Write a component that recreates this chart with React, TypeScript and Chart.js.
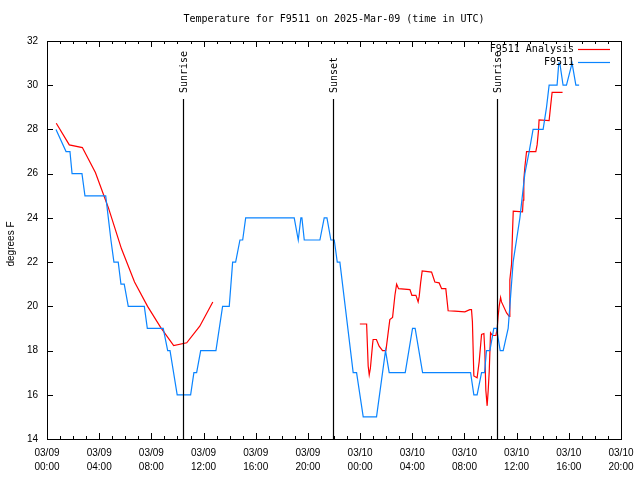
import React, { useEffect, useRef } from "react";
import { Chart, registerables } from "chart.js";

Chart.register(...registerables);

const TITLE = "Temperature for F9511 on 2025-Mar-09 (time in UTC)";
const Y_TITLE = "degrees F";
const X_MIN = 0;
const X_MAX = 44;
const Y_MIN = 14;
const Y_MAX = 32;

const xTickHours = [0, 4, 8, 12, 16, 20, 24, 28, 32, 36, 40, 44];
const xTickDates = ["03/09", "03/09", "03/09", "03/09", "03/09", "03/09", "03/10", "03/10", "03/10", "03/10", "03/10", "03/10"];
const xTickTimes = ["00:00", "04:00", "08:00", "12:00", "16:00", "20:00", "00:00", "04:00", "08:00", "12:00", "16:00", "20:00"];
const yTicks = [14, 16, 18, 20, 22, 24, 26, 28, 30, 32];

const seriesNames = ["F9511 Analysis", "F9511"];
const seriesColors = ["#ff0000", "#0a84ff"];

// F9511 observations (hours since 03/09 00:00 UTC, degrees F)
const obsHours = [
  0.69, 1.46, 1.76, 1.92, 2.68, 2.91, 4.5, 4.7, 4.9, 5.13, 5.46, 5.67, 5.92, 6.23, 7.46, 7.69, 8.91, 9.25, 9.43, 9.98,
  11.01, 11.26, 11.47, 11.78, 12.95, 13.46, 13.97, 14.23, 14.46, 14.79, 15.0, 15.23, 18.95, 19.26, 19.46, 19.54, 19.72,
  20.92, 21.25, 21.46, 21.76, 22.02, 22.25, 22.45, 23.47, 23.73, 24.24, 25.26, 25.95, 26.23, 27.46, 28.02, 28.22, 28.79,
  32.47, 32.72, 32.97, 33.31, 33.54, 33.69, 33.95, 34.25, 34.46, 34.74, 34.97, 35.35, 35.48, 35.73, 35.99, 36.25, 36.63,
  36.96, 37.26, 38.03, 38.29, 38.49, 39.1, 39.23, 39.31, 39.56, 39.82, 40.25, 40.54, 40.79,
];
const obsTemps = [
  28, 27, 27, 26, 26, 25, 25, 24, 23, 22, 22, 21, 21, 20, 20, 19, 19, 18, 18, 16,
  16, 17, 17, 18, 18, 20, 20, 22, 22, 23, 23, 24, 24, 23, 24, 24, 23,
  23, 24, 24, 23, 23, 22, 22, 17, 17, 15, 15, 18, 17, 17, 19, 19, 17,
  17, 16, 16, 17, 17, 18, 18, 19, 19, 18, 18, 19, 20, 22, 23, 24, 26,
  27, 28, 28, 29, 30, 30, 31, 31, 30, 30, 31, 30, 30,
];

// F9511 Analysis (null = gap)
const anaHours = [
  0.71, 1.71, 2.71, 3.71, 4.71, 5.71, 6.71, 7.71, 8.71, 9.71, 10.71, 11.71, 12.71, 18.0,
  23.98, 24.5, 24.62, 24.7, 24.79, 24.96, 25.0, 25.25, 25.46, 25.72, 25.98, 26.15, 26.28, 26.49, 26.67, 26.8, 26.95,
  27.82, 27.97, 28.28, 28.45, 28.53, 28.64, 28.76, 29.48, 29.73, 30.06, 30.25, 30.57, 30.75, 31.26, 32.03, 32.41, 32.54,
  32.61, 32.72, 32.97, 33.13, 33.31, 33.49, 33.56, 33.64, 33.74, 33.82, 33.9, 34.0, 34.15, 34.41, 34.51, 34.58, 34.66,
  34.77, 34.84, 35.23, 35.43, 35.48, 35.61, 35.69, 35.74, 36.45, 36.5, 36.55, 36.63, 36.76, 37.47, 37.57, 37.68, 37.72,
  38.49, 38.6, 38.72, 39.52,
];
const anaTemps = [
  28.28, 27.3, 27.18, 26.05, 24.45, 22.6, 21.1, 20.0, 19.05, 18.22, 18.35, 19.1, 20.2, null,
  19.2, 19.2, 17.3, 16.9, 17.2, 18.3, 18.5, 18.5, 18.2, 18.0, 18.0, 18.8, 19.4, 19.5, 20.5, 21.0, 20.8,
  20.76, 20.5, 20.5, 20.2, 20.45, 21.06, 21.6, 21.55, 21.1, 21.06, 20.8, 20.8, 19.8, 19.78, 19.75, 19.85, 19.85,
  19.3, 16.85, 16.77, 17.5, 18.73, 18.77, 18.0, 16.2, 15.5, 16.2, 17.07, 18.8, 18.68, 18.68, 19.0, 19.55, 20.0,
  20.4, 20.2, 19.7, 19.55, 21.2, 21.9, 23.47, 24.3, 24.27, 24.8, 25.7, 26.3, 27.0, 27.0, 27.3, 27.98, 28.43,
  28.4, 29.03, 29.68, 29.68,
];

const eventHours = [10.42, 21.92, 34.48];
const eventLabels = ["Sunrise", "Sunset", "Sunrise"];

const MONO = "10px 'DejaVu Sans Mono', monospace";
const TICKF = "10px 'Liberation Sans', sans-serif";

const overlay = {
  id: "overlay",
  afterDraw(chart: any) {
    const { ctx, chartArea: a, scales } = chart;
    const xs = scales.x;
    const ys = scales.y;
    const L = Math.round(a.left);
    const R = Math.round(a.right);
    const T = Math.round(a.top);
    const B = Math.round(a.bottom);
    ctx.save();
    ctx.strokeStyle = "#000";
    ctx.fillStyle = "#000";
    ctx.lineWidth = 1;
    ctx.strokeRect(L + 0.5, T + 0.5, R - L, B - T);

    ctx.beginPath();
    for (const v of yTicks) {
      const py = Math.round(ys.getPixelForValue(v)) + 0.5;
      ctx.moveTo(L, py);
      ctx.lineTo(L + 6, py);
      ctx.moveTo(R, py);
      ctx.lineTo(R - 6, py);
    }
    for (let h = X_MIN; h <= X_MAX; h++) {
      const px = Math.round(xs.getPixelForValue(h)) + 0.5;
      const len = h % 4 === 0 ? 6 : 3;
      ctx.moveTo(px, B);
      ctx.lineTo(px, B - len);
      ctx.moveTo(px, T);
      ctx.lineTo(px, T + len);
    }
    ctx.stroke();

    ctx.font = TICKF;
    ctx.textAlign = "right";
    ctx.textBaseline = "middle";
    for (const v of yTicks) {
      ctx.fillText(String(v), L - 9, ys.getPixelForValue(v));
    }
    ctx.textAlign = "center";
    xTickHours.forEach((h, i) => {
      const px = xs.getPixelForValue(h);
      ctx.fillText(xTickDates[i], px, B + 14);
      ctx.fillText(xTickTimes[i], px, B + 28);
    });

    ctx.save();
    ctx.translate(11, 244);
    ctx.rotate(-Math.PI / 2);
    ctx.fillText(Y_TITLE, 0, 0);
    ctx.restore();

    // events
    ctx.font = MONO;
    ctx.lineWidth = 1.2;
    eventHours.forEach((h, i) => {
      const px = Math.round(xs.getPixelForValue(h)) + 0.5;
      ctx.beginPath();
      ctx.moveTo(px, T + 58);
      ctx.lineTo(px, B);
      ctx.stroke();
      ctx.save();
      ctx.translate(px + 1, T + 52);
      ctx.rotate(-Math.PI / 2);
      ctx.textAlign = "left";
      ctx.textBaseline = "middle";
      ctx.fillText(eventLabels[i], 0, 0);
      ctx.restore();
    });

    // legend
    ctx.textAlign = "right";
    ctx.textBaseline = "middle";
    seriesNames.forEach((n, i) => {
      const y = T + 8 + i * 13;
      ctx.fillStyle = "#000";
      ctx.fillText(n, R - 47, y);
      ctx.strokeStyle = seriesColors[i];
      ctx.lineWidth = 1.2;
      ctx.beginPath();
      ctx.moveTo(R - 43, y + 0.5);
      ctx.lineTo(R - 11, y + 0.5);
      ctx.stroke();
    });

    // title
    ctx.fillStyle = "#000";
    ctx.textAlign = "center";
    ctx.fillText(TITLE, (L + R) / 2, 19);
    ctx.restore();
  },
};

export default function App() {
  const ref = useRef<HTMLCanvasElement | null>(null);
  useEffect(() => {
    if (!ref.current) return;
    const chart = new Chart(ref.current, {
      type: "line",
      data: {
        datasets: [
          {
            label: seriesNames[0],
            data: anaHours.map((h, i) => ({ x: h, y: anaTemps[i] })) as any,
            borderColor: seriesColors[0],
            borderWidth: 1.2,
            pointRadius: 0,
            tension: 0,
            spanGaps: false,
            order: 1,
          },
          {
            label: seriesNames[1],
            data: obsHours.map((h, i) => ({ x: h, y: obsTemps[i] })),
            borderColor: seriesColors[1],
            borderWidth: 1.2,
            pointRadius: 0,
            tension: 0,
            order: 0,
          },
        ],
      },
      options: {
        responsive: false,
        maintainAspectRatio: false,
        animation: false,
        events: [],
        layout: { padding: { top: 41, right: 19, left: 0, bottom: 0 } },
        plugins: {
          legend: { display: false },
          title: { display: false },
          tooltip: { enabled: false },
        },
        scales: {
          x: {
            type: "linear",
            min: X_MIN,
            max: X_MAX,
            ticks: { display: false },
            grid: { display: false },
            border: { display: false },
            afterFit: (s: any) => {
              s.height = 41;
            },
          },
          y: {
            type: "linear",
            min: Y_MIN,
            max: Y_MAX,
            ticks: { display: false },
            grid: { display: false },
            border: { display: false },
            afterFit: (s: any) => {
              s.width = 47;
            },
          },
        },
      },
      plugins: [overlay],
    });
    return () => chart.destroy();
  }, []);
  return (
    <div style={{ position: "fixed", left: 0, top: 0, width: 640, height: 480, background: "#fff" }}>
      <canvas ref={ref} width={640} height={480} />
    </div>
  );
}
